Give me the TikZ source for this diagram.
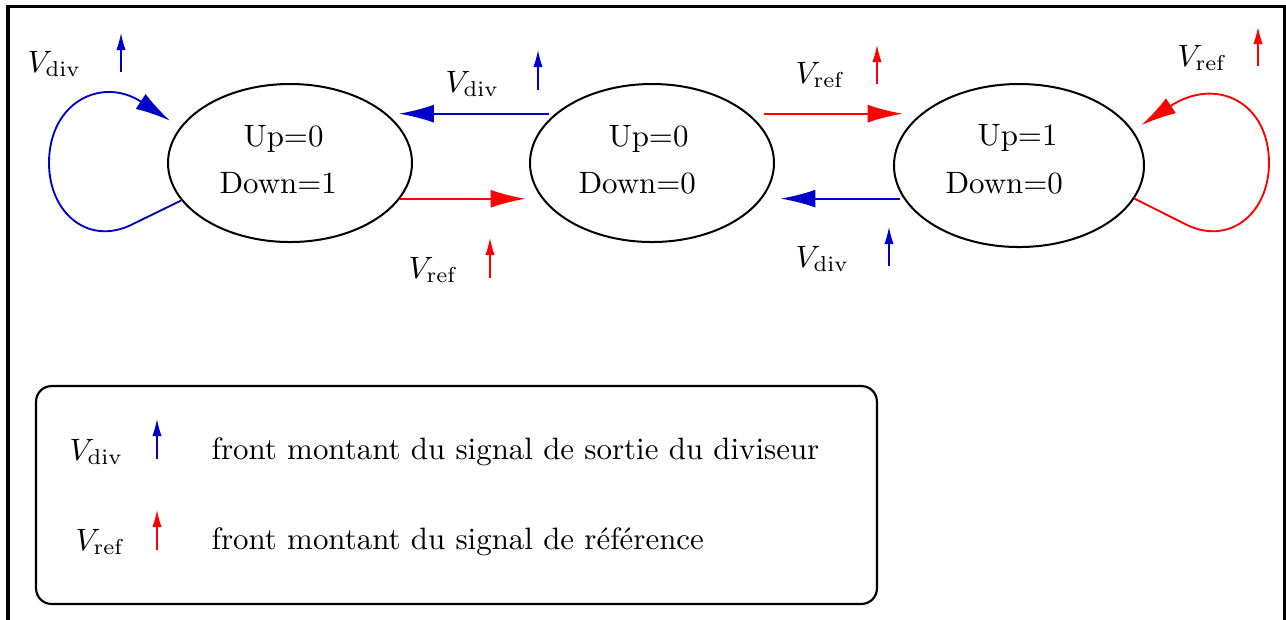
\documentclass[tikz,border=0pt]{standalone}
\usetikzlibrary{arrows.meta,shapes.geometric}
\definecolor{cblue}{RGB}{0,0,205}
\definecolor{cred}{RGB}{255,0,0}
\begin{document}
\begin{tikzpicture}[x=0.3236pt,y=-0.3236pt,
  state/.style={draw,ellipse,line width=0.65pt,inner sep=0pt},
  conn/.style={line width=0.6pt,-{Latex[length=11.3pt,width=5.8pt]}},
  rise/.style={line width=0.4pt,-{Latex[length=5.5pt,width=3pt]}},
  lbl/.style={anchor=base west,inner sep=0pt}]
\useasboundingbox (0,0) rectangle (1286,619);
\draw[line width=1pt] (8,700) -- (8,6.5) -- (1285,6.5) -- (1285,700);

\node[state,minimum width=78.96pt,minimum height=51.13pt] (s1) at (290,163) {};
\node[state,minimum width=78.96pt,minimum height=51.13pt] (s2) at (652,163) {};
\node[state,minimum width=80.9pt,minimum height=52.75pt] (s3) at (1019,165.5) {};

\node[lbl] (t1a) at (243,146) {Up=0};
\node[lbl] (t1b) at (219,193) {Down=1};
\node[lbl] (t2a) at (608,146) {Up=0};
\node[lbl] (t2b) at (578,193) {Down=0};
\node[lbl] (t3a) at (977,145) {Up=1};
\node[lbl] (t3b) at (945,193) {Down=0};

\node[lbl] (l1) at (27,72) {$V_{\mathrm{div}}$};
\node[lbl] (l2) at (445,92) {$V_{\mathrm{div}}$};
\node[lbl] (l3) at (408,278) {$V_{\mathrm{ref}}$};
\node[lbl] (l4) at (795,83) {$V_{\mathrm{ref}}$};
\node[lbl] (l5) at (795,267) {$V_{\mathrm{div}}$};
\node[lbl] (l6) at (1177,66) {$V_{\mathrm{ref}}$};

\draw[rise,cblue] (121,72) -- (121,33);
\draw[rise,cblue] (538,90) -- (538,50);
\draw[rise,cred] (490,278) -- (490,238);
\draw[rise,cred] (877,84) -- (877,45);
\draw[rise,cblue] (889,266) -- (889,227);
\draw[rise,cred] (1258,66) -- (1258,27);

\draw[conn,cblue,shorten <=2pt,shorten >=3.9pt] (s2.153) -- (s1.27);
\draw[conn,cred,shorten >=5.3pt] (s1.-18) -- (s2.198);
\draw[conn,cred,shorten <=4.8pt,shorten >=6pt] (s2.27) -- (s2.27 -| s3.152);
\draw[conn,cblue,shorten <=1.3pt,shorten >=6pt] (s3.196) -- (s3.196 -| s2.-18);

\draw[conn,cblue,shorten >=3.9pt] (s1.199) -- (133,224) .. controls (88.5,246.8) and (49,213) .. (49,163) .. controls (49,102) and (102,76) .. (s1.162);
\draw[conn,cred,shorten >=3.3pt] (s3.-16) -- (1185,224) .. controls (1229.5,246.8) and (1269,213) .. (1269,163) .. controls (1269,102) and (1216,76) .. (s3.17);

\node[draw,rounded corners=5pt,line width=0.7pt,minimum width=272.1pt,minimum height=70.5pt,inner sep=0pt] (leg) at (456.5,495) {};
\node[lbl] (k1) at (69,460) {$V_{\mathrm{div}}$};
\node[lbl] (k2) at (75,550) {$V_{\mathrm{ref}}$};
\draw[rise,cblue] (157,459) -- (157,419);
\draw[rise,cred] (157,550) -- (157,510);
\node[lbl] (d1) at (211,459) {front montant du signal de sortie du diviseur};
\node[lbl] (d2) at (211,549) {front montant du signal de référence};
\end{tikzpicture}
\end{document}
